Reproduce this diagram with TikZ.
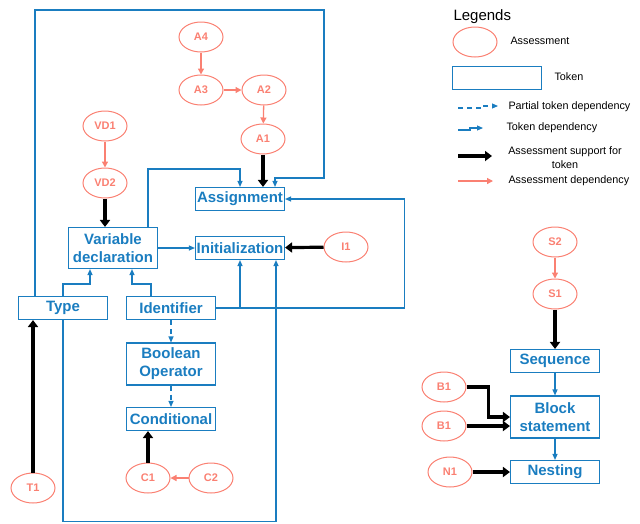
\documentclass[tikz,border=0pt]{standalone}
\usepackage{fontspec}
\setmainfont{Liberation Sans}
\usetikzlibrary{shapes.geometric, arrows.meta, positioning, calc}
\definecolor{tokblue}{RGB}{26, 125, 192}
\definecolor{assesspink}{RGB}{250, 128, 114}
\tikzset{
  assess/.style={draw=assesspink, ellipse, line width=1pt, minimum width=44, minimum height=30, inner sep=0pt, text=assesspink, font=\fontsize{11}{13}\selectfont\bfseries},
  token/.style={draw=tokblue, line width=1.1pt, minimum width=89, minimum height=23, inner sep=1pt, align=center, text=tokblue, font=\fontsize{15}{18}\selectfont\bfseries},
  tokdep/.style={draw=tokblue, line width=1.1pt, -{Triangle[length=6pt, width=5pt]}},
  partdep/.style={tokdep, dash pattern=on 5pt off 4pt},
  support/.style={draw=black, line width=3.2pt, -{Triangle[length=7pt, width=10pt]}},
  assessdep/.style={draw=assesspink, line width=1.3pt, -{Triangle[length=6pt, width=6pt]}},
  legtext/.style={anchor=west, font=\fontsize{10.8}{13}\selectfont}
}

\begin{document}
\begin{tikzpicture}[x=1pt, y=-1pt]
  \useasboundingbox (0,0) rectangle (640,523);

  % Assessments
  \node[assess] (a4) at (201, 37) {A4};
  \node[assess] (a3) at (201, 90) {A3};
  \node[assess] (a2) at (264, 90) {A2};
  \node[assess] (a1) at (263, 139) {A1};
  \node[assess] (vd1) at (105, 126) {VD1};
  \node[assess] (vd2) at (105, 183) {VD2};
  \node[assess] (i1) at (346, 247) {I1};
  \node[assess] (t1) at (33, 488) {T1};
  \node[assess] (c1) at (148, 478) {C1};
  \node[assess] (c2) at (211, 478) {C2};
  \node[assess] (s2) at (555, 242) {S2};
  \node[assess] (s1) at (555, 294) {S1};
  \node[assess] (b1a) at (444, 387) {B1};
  \node[assess] (b1b) at (444, 426) {B1};
  \node[assess] (n1) at (450, 472) {N1};

  % Tokens
  \node[token] (assign) at (240, 199) {Assignment};
  \node[token] (init) at (240, 248) {Initialization};
  \node[token, minimum height=41] (vardecl) at (113, 248) {Variable\\declaration};
  \node[token] (type) at (63, 308) {Type};
  \node[token] (ident) at (171, 308) {Identifier};
  \node[token, minimum height=42] (boolop) at (171, 364) {Boolean\\Operator};
  \node[token] (cond) at (171, 419) {Conditional};
  \node[token] (seq) at (555, 361) {Sequence};
  \node[token, minimum height=42] (block) at (555, 417) {Block\\statement};
  \node[token] (nest) at (555, 472) {Nesting};

  % Assessment dependencies
  \draw[assessdep] (a4) -- (a3);
  \draw[assessdep] (a3) -- (a2);
  \draw[assessdep] (a2) -- (a1);
  \draw[assessdep] (vd1) -- (vd2);
  \draw[assessdep] (c2) -- (c1);
  \draw[assessdep] (s2) -- (s1);

  % Assessment support
  \draw[support] (a1.south) -- (a1.south |- assign.north);
  \draw[support] (vd2.south) -- (vd2.south |- vardecl.north);
  \draw[support] (i1) -- (init);
  \draw[support] (t1.north) -- (t1.north |- type.south);
  \draw[support] (c1.north) -- (c1.north |- cond.south);
  \draw[support] (s1) -- (seq);
  \draw[support] (b1a.east) -- ++(22,0) |- (block.west);
  \draw[support] (b1b.east) -- (b1b.east -| block.west);
  \draw[support] (n1) -- (nest);

  % Token dependencies
  \draw[tokdep] (type.north) -- ++(0,-12) -| ([xshift=-23pt]vardecl.south);
  \draw[tokdep] ([xshift=-20pt]ident.north) -- ++(0,-12) -| ([xshift=19pt]vardecl.south);
  \draw[tokdep] ([xshift=-28pt]type.north) |- (324,10) -- (324,178) -| ([xshift=35pt]assign.north);
  \draw[tokdep] ([xshift=35pt]vardecl.north) |- (240,169) -- (assign.north);
  \draw[tokdep] (vardecl) -- (init);
  \draw[tokdep] (ident.east) -| (init.south);
  \draw[tokdep] (ident.east) -- ++(188,0) |- (assign.east);
  \draw[tokdep] (type.south) -- ++(0,201) -| ([xshift=36pt]init.south);
  \draw[partdep] (ident) -- (boolop);
  \draw[partdep] (boolop) -- (cond);
  \draw[tokdep] (seq) -- (block);
  \draw[tokdep] (block) -- (nest);

  % Legends
  \node[anchor=west, font=\fontsize{15}{18}\selectfont] (legtitle) at (450, 17) {Legends};
  \node[assess] (legassess) at (475, 42) {};
  \node[legtext] (legassesstext) at (507, 41) {Assessment};
  \node[token] (legtoken) at (497, 78) {};
  \node[legtext] (legtokentext) at (551, 77) {Token};
  \coordinate (lpd1) at (458, 108);
  \coordinate (lpd2) at (498, 106);
  \draw[partdep] (lpd1) -- (481,108) -- (481,106) -- (lpd2);
  \node[legtext] (legpdtext) at (505, 107) {Partial token dependency};
  \coordinate (ltd1) at (458, 130);
  \coordinate (ltd2) at (483, 128);
  \draw[tokdep] (ltd1) -- (470,130) -- (470,128) -- (ltd2);
  \node[legtext] (legtdtext) at (503, 128) {Token dependency};
  \coordinate (lsu1) at (458, 156);
  \coordinate (lsu2) at (492, 156);
  \draw[support] (lsu1) -- (lsu2);
  \node[font=\fontsize{10.8}{14}\selectfont, align=center] (legsutext) at (565, 158) {Assessment support for\\token};
  \coordinate (lad1) at (458, 181);
  \coordinate (lad2) at (493, 181);
  \draw[assessdep] (lad1) -- (lad2);
  \node[legtext] (legadtext) at (505, 181) {Assessment dependency};
\end{tikzpicture}
\end{document}
